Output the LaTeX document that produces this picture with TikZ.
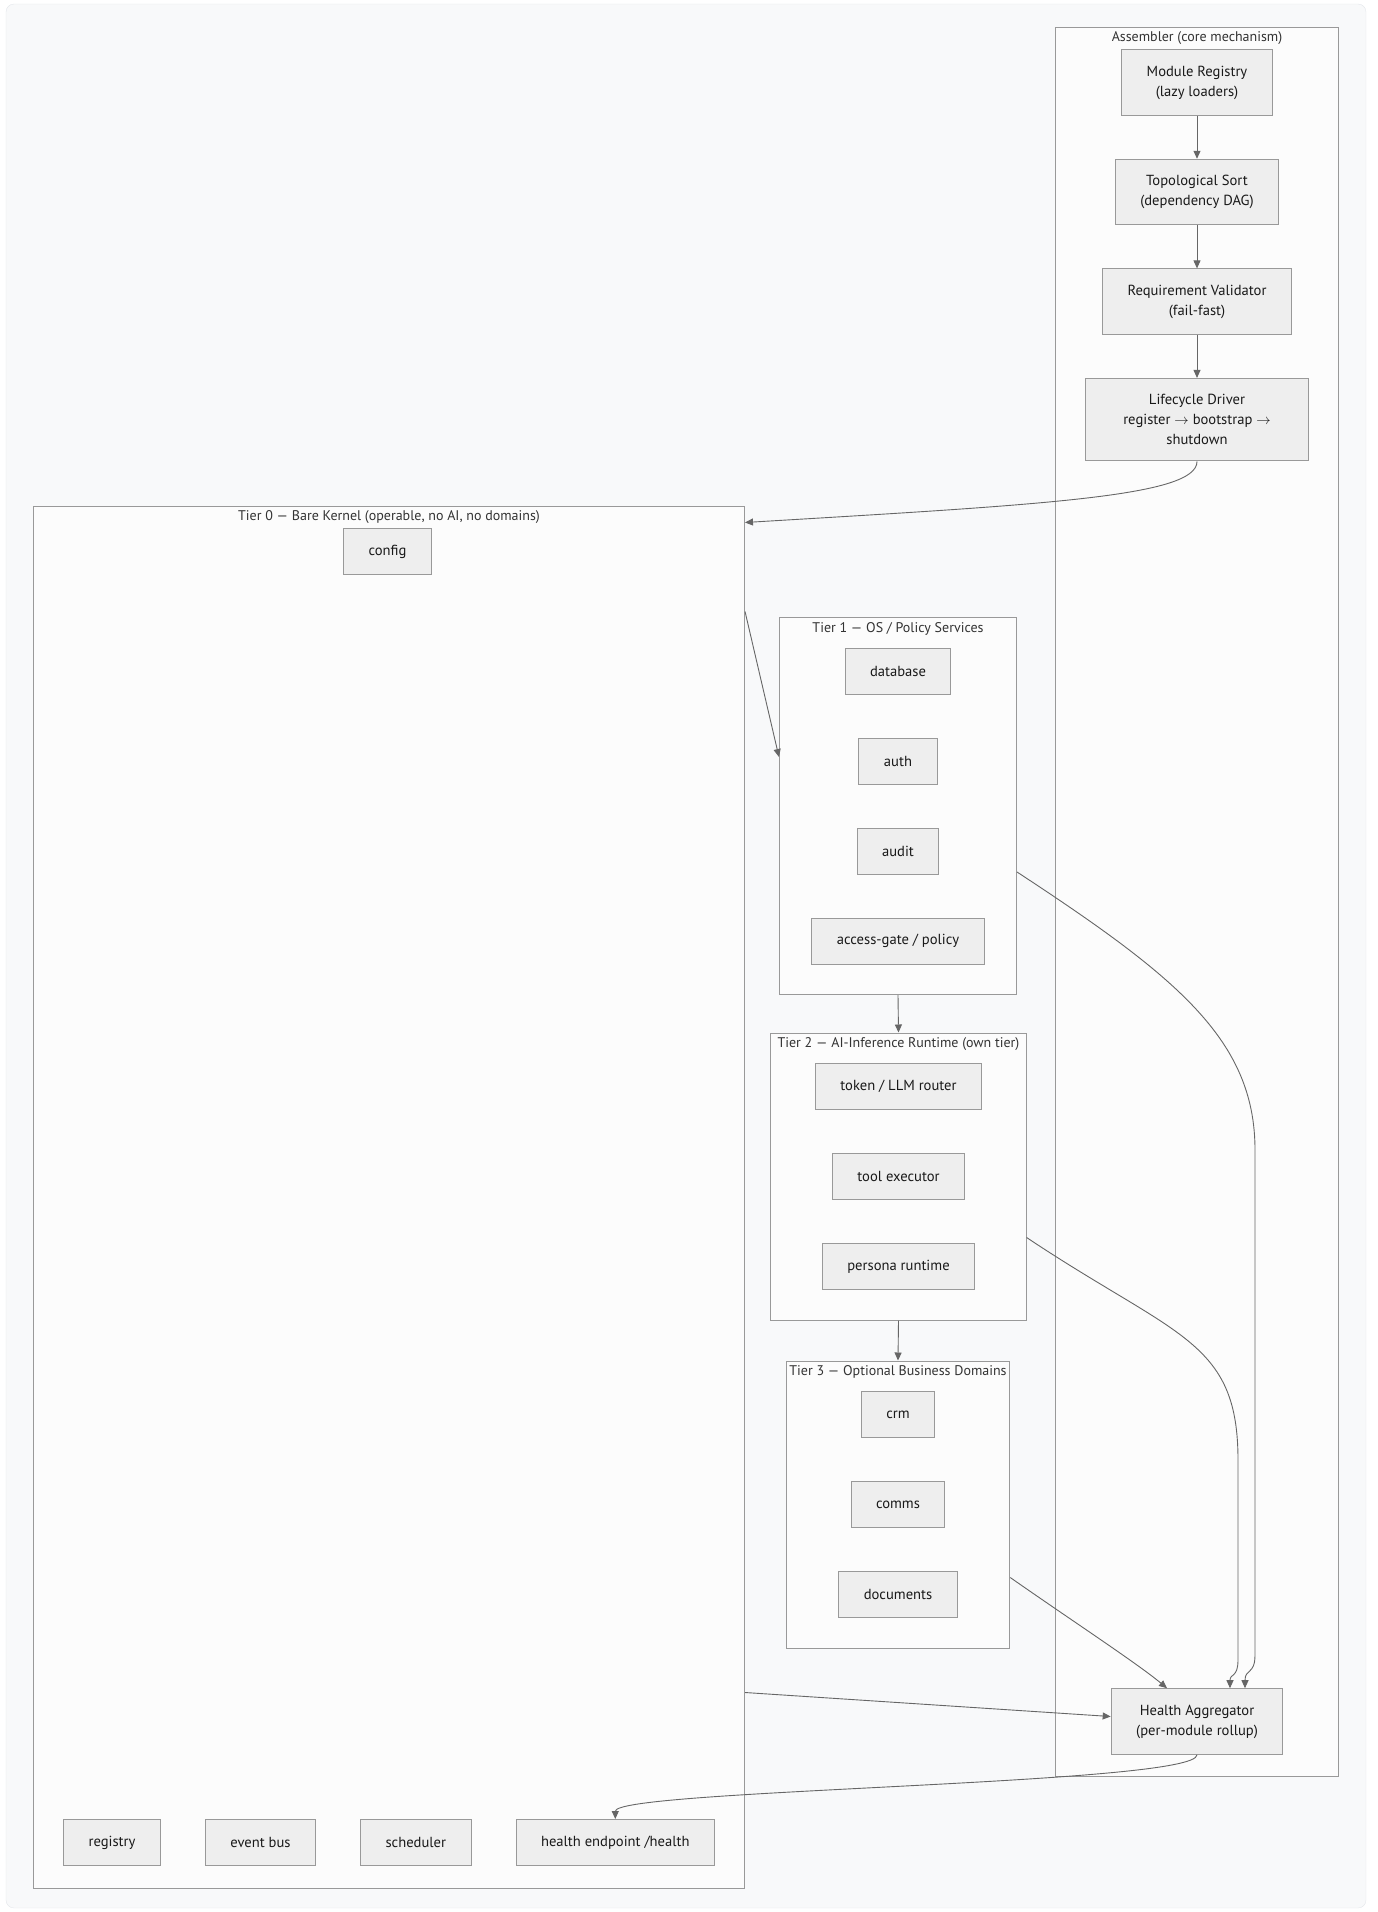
\documentclass[tikz,border=0pt]{standalone}
\usepackage{fontspec}
\setmainfont{PT Sans}
\usepackage{tikz}
\usetikzlibrary{positioning, arrows.meta, fit, backgrounds}

\definecolor{canvas}{HTML}{F8F9FA}
\definecolor{canvasline}{HTML}{E3E6EA}
\definecolor{boxfill}{HTML}{EEEEEE}
\definecolor{boxline}{HTML}{999999}
\definecolor{tierfill}{HTML}{FCFCFC}
\definecolor{edge}{HTML}{666666}
\definecolor{titletext}{HTML}{333333}

\begin{document}
\begin{tikzpicture}[
  x=1pt, y=-1pt,
  font=\fontsize{14.6}{20}\selectfont,
  node distance=43pt and 44pt,
  every node/.style={align=center},
  mod/.style={draw=boxline, fill=boxfill, line width=1pt, minimum height=46pt,
              inner xsep=25pt, inner ysep=16pt, text=black!90},
  tier/.style={draw=boxline, fill=tierfill, line width=1pt},
  tiertitle/.style={text=titletext, inner sep=0pt, anchor=base,
                    font=\fontsize{14}{20}\selectfont},
  arrow/.style={-{Triangle[length=8pt, width=7pt]}, edge, line width=0.9pt}
]
\useasboundingbox (0,0) rectangle (1378,1912);

% assembler chain
\node[mod] (modreg) at (1197,82.5) {Module Registry\\(lazy loaders)};
\node[mod, below=of modreg]   (toposort) {Topological Sort\\(dependency DAG)};
\node[mod, below=of toposort] (reqval)   {Requirement Validator\\(fail-fast)};
\node[mod, below=of reqval, minimum width=223pt] (lifecyc)
  {Lifecycle Driver\\register $\rightarrow$ bootstrap $\rightarrow$\\shutdown};
\node[mod] (hagg) at (1197,1721.5) {Health Aggregator\\(per-module rollup)};

% tier 1
\node[mod] (database) at (898,671) {database};
\node[mod, below=of database] (auth)    {auth};
\node[mod, below=of auth]     (audit)   {audit};
\node[mod, below=of audit]    (accgate) {access-gate / policy};

% tier 2
\node[mod] (llmrouter) at (898.5,1086.5) {token / LLM router};
\node[mod, below=of llmrouter] (toolexec) {tool executor};
\node[mod, below=of toolexec]  (persona)  {persona runtime};

% tier 3
\node[mod] (crm) at (898,1414.5) {crm};
\node[mod, below=of crm]   (comms) {comms};
\node[mod, below=of comms] (docs)  {documents};

% tier 0
\node[mod] (config) at (387.5,551.5) {config};
\node[mod] (registry) at (112,1842.5) {registry};
\node[mod, right=of registry]  (eventbus)  {event bus};
\node[mod, right=of eventbus]  (scheduler) {scheduler};
\node[mod, right=of scheduler] (hlthep)    {health endpoint /health};

\begin{scope}[on background layer]
  \draw[fill=canvas, draw=canvasline, rounded corners=8pt] (6,4) rectangle (1366,1908);
  \node[tier, fit=(modreg)(lifecyc)(hagg), inner xsep=29.5pt, inner ysep=22pt] (asm) {};
  \node[tier, fit=(config)(registry)(hlthep), inner xsep=29.5pt, inner ysep=22pt] (tier0) {};
  \node[tier, fit=(database)(accgate), inner xsep=32pt, inner ysep=30pt] (tier1) {};
  \node[tier, fit=(llmrouter)(persona), inner xsep=44pt, inner ysep=30pt] (tier2) {};
  \node[tier, fit=(crm)(docs), inner xsep=52pt, inner ysep=30pt] (tier3) {};
\end{scope}

\node[tiertitle] (asmlbl)   at ([yshift=-15pt]asm.north)   {Assembler (core mechanism)};
\node[tiertitle] (tier0lbl) at ([yshift=-15pt]tier0.north) {Tier 0 — Bare Kernel (operable, no AI, no domains)};
\node[tiertitle] (tier1lbl) at ([yshift=-15pt]tier1.north) {Tier 1 — OS / Policy Services};
\node[tiertitle] (tier2lbl) at ([yshift=-15pt]tier2.north) {Tier 2 — AI-Inference Runtime (own tier)};
\node[tiertitle] (tier3lbl) at ([yshift=-15pt]tier3.north) {Tier 3 — Optional Business Domains};

\draw[arrow] (modreg) -- (toposort);
\draw[arrow] (toposort) -- (reqval);
\draw[arrow] (reqval) -- (lifecyc);
\draw[arrow] (lifecyc.south) .. controls +(0,35) and +(300,-18) .. ([yshift=-17pt]tier0.north east);
\draw[arrow] ([yshift=-106pt]tier0.north east) -- ([yshift=-140pt]tier1.north west);
\draw[arrow] (tier1.south) -- (tier2.north);
\draw[arrow] (tier2.south) -- (tier3.north);
\draw[arrow] ([yshift=-255pt]tier1.north east) .. controls +(160,105) and +(0,-110) .. (1255,1150)
  -- (1255,1655) .. controls +(0,20) and +(0,-20) .. ([xshift=48pt]hagg.north);
\draw[arrow] ([yshift=-205pt]tier2.north east) .. controls +(150,100) and +(0,-120) .. (1238,1460)
  -- (1238,1660) .. controls +(0,18) and +(0,-15) .. ([xshift=33pt]hagg.north);
\draw[arrow] ([yshift=-217pt]tier3.north east) .. controls +(60,42) and +(-30,-25) .. ([xshift=-30pt]hagg.north);
\draw[arrow] ([yshift=196pt]tier0.south east) -- ([yshift=5pt]hagg.west);
\draw[arrow] (hagg.south) .. controls +(0,30) and +(0,-30) .. (hlthep.north);

\end{tikzpicture}
\end{document}
